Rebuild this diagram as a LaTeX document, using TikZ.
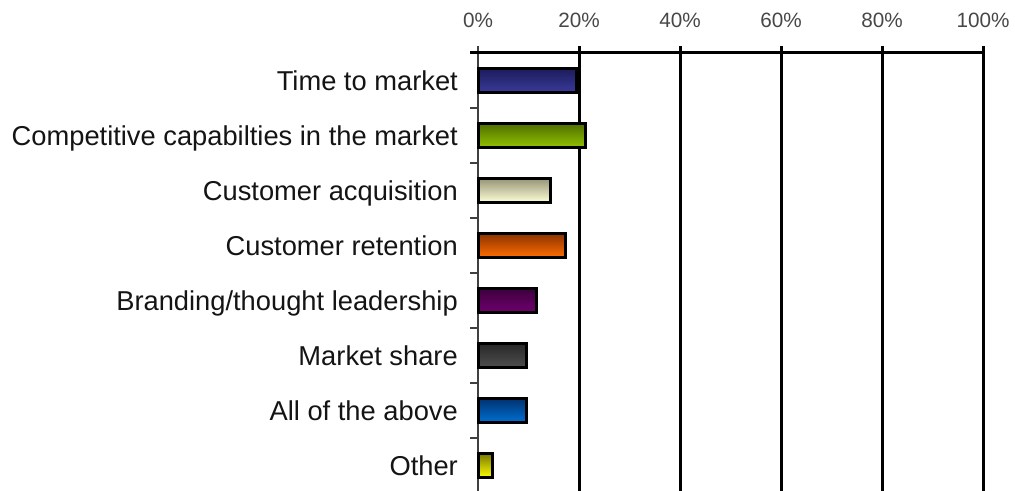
\documentclass[tikz,border=0pt]{standalone}
\usepackage{fontspec}
\setmainfont{Liberation Sans}
\definecolor{c1t}{RGB}{28,28,92}\definecolor{c1b}{RGB}{58,58,155}
\definecolor{c2t}{RGB}{80,110,0}\definecolor{c2b}{RGB}{145,195,0}
\definecolor{c3t}{RGB}{150,150,120}\definecolor{c3b}{RGB}{255,255,215}
\definecolor{c4t}{RGB}{140,50,0}\definecolor{c4b}{RGB}{255,110,0}
\definecolor{c5t}{RGB}{60,0,60}\definecolor{c5b}{RGB}{112,0,112}
\definecolor{c6t}{RGB}{40,40,40}\definecolor{c6b}{RGB}{78,78,78}
\definecolor{c7t}{RGB}{0,50,110}\definecolor{c7b}{RGB}{0,112,212}
\definecolor{c8t}{RGB}{120,120,0}\definecolor{c8b}{RGB}{255,255,0}
\begin{document}
\begin{tikzpicture}[x=1bp,y=-1bp,
  cat/.style={anchor=base east,inner sep=0pt,font=\fontsize{27.3bp}{30bp}\selectfont,text=black!92},
  pct/.style={anchor=base,inner sep=0pt,font=\fontsize{20.7bp}{24bp}\selectfont,text=black!72},
  gridline/.style={line width=3bp,black},
  axisline/.style={line width=1.5bp,black!75},
  barbox/.style={draw=black,line width=3bp}]
\useasboundingbox (0,0) rectangle (1015,491);
% vertical gridlines
\foreach \i in {1,...,5} \draw[gridline] ({478+101*\i},46) -- ({478+101*\i},491);
% percent labels
\foreach \i/\t in {0/0\%,1/20\%,2/40\%,3/60\%,4/80\%,5/100\%}
  \node[pct] (p\i) at ({478+101*\i},28) {\t};
% left axis and ticks
\draw[axisline] (478,46) -- (478,491);
\foreach \k in {1,...,8} \draw[axisline] (470,{53+55*\k}) -- (478,{53+55*\k});
% bars
\foreach \k/\v/\c in {0/19.6/c1,1/21.2/c2,2/14.3/c3,3/17.4/c4,4/11.5/c5,5/9.7/c6,6/9.7/c7,7/2.8/c8}{
  \pgfmathsetmacro{\yc}{80.5+55*\k}
  \pgfmathsetmacro{\xe}{478+5.05*\v}
  \shade[top color=\c t,bottom color=\c b] (478,{\yc-12}) rectangle (\xe,{\yc+12});
  \draw[barbox] (478,{\yc-12}) rectangle (\xe,{\yc+12});
}
% top axis
\draw[line width=3bp] (470,53) -- (983,53);
% category labels
\foreach \k/\t in {0/{Time to market},1/{Competitive capabilties in the market},2/{Customer acquisition},3/{Customer retention},4/{Branding/thought leadership},5/{Market share},6/{All of the above},7/{Other}}
  \node[cat] (l\k) at (458,{80.5+55*\k+9.6}) {\t};
\end{tikzpicture}
\end{document}
